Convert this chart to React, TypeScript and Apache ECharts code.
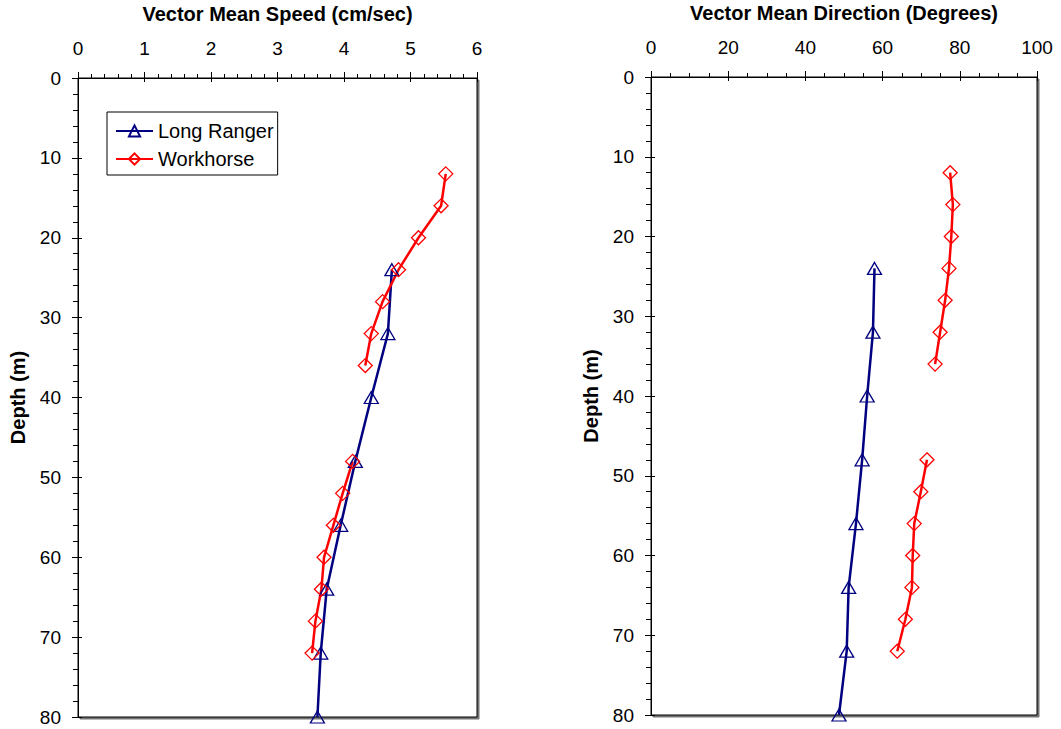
import React, { useEffect, useRef } from "react";
import * as echarts from "echarts";

const speedTicks = [0, 1, 2, 3, 4, 5, 6];
const dirTicks = [0, 20, 40, 60, 80, 100];
const depthTicks = [0, 10, 20, 30, 40, 50, 60, 70, 80];

const lrDepths = [24, 32, 40, 48, 56, 64, 72, 80];
const lrSpeed = [4.72, 4.66, 4.41, 4.17, 3.95, 3.74, 3.65, 3.6];
const lrDir = [57.9, 57.5, 56.0, 54.7, 53.1, 51.2, 50.7, 48.7];

const whDepths = [12, 16, 20, 24, 28, 32, 36, 40, 44, 48, 52, 56, 60, 64, 68, 72];
const whSpeed = [5.53, 5.46, 5.12, 4.82, 4.58, 4.41, 4.32, null, null, 4.13, 3.98, 3.84, 3.7, 3.66, 3.57, 3.52];
const whDir = [77.5, 78.2, 77.8, 77.2, 76.2, 74.9, 73.6, null, null, 71.5, 69.9, 68.2, 67.8, 67.6, 65.9, 63.8];

const FONT = "Liberation Sans, Arial, sans-serif";
const NAVY = "#000080";
const RED = "#ff0000";

const pairs = (xs: (number | null)[], ds: number[]) =>
  ds.map((d, i) => (xs[i] === null ? ["-", d] : [xs[i], d]));

export default function App() {
  const ref = useRef<HTMLDivElement>(null);
  useEffect(() => {
    if (!ref.current) return;
    const chart = echarts.init(ref.current, undefined, { renderer: "svg" });
    const axisLine = { show: true, onZero: false, lineStyle: { color: "#000", width: 1 } };
    const xAxisBase = (gi: number, ticks: number[], name: string, minorSplit: number) => ({
      type: "value",
      gridIndex: gi,
      position: "top",
      min: ticks[0],
      max: ticks[ticks.length - 1],
      interval: ticks[1] - ticks[0],
      name,
      nameLocation: "middle",
      nameGap: 54,
      nameTextStyle: { fontFamily: FONT, fontSize: 20, fontWeight: "bold", color: "#000" },
      axisLine,
      axisTick: { show: true, inside: false, length: 6, lineStyle: { color: "#000" } },
      minorTick: { show: true, splitNumber: minorSplit, length: 4, lineStyle: { color: "#000" } },
      axisLabel: { fontFamily: FONT, fontSize: 19, color: "#000", margin: 20 },
      splitLine: { show: false },
    });
    const xAxisInner = (gi: number, ticks: number[]) => ({
      type: "value",
      gridIndex: gi,
      position: "top",
      min: ticks[0],
      max: ticks[ticks.length - 1],
      interval: ticks[1] - ticks[0],
      axisLine: { show: false },
      axisTick: { show: true, inside: true, length: 4, lineStyle: { color: "#000" } },
      axisLabel: { show: false },
      splitLine: { show: false },
    });
    const yAxisBase = (gi: number) => ({
      type: "value",
      gridIndex: gi,
      inverse: true,
      min: depthTicks[0],
      max: depthTicks[depthTicks.length - 1],
      interval: depthTicks[1] - depthTicks[0],
      name: "Depth (m)",
      nameLocation: "middle",
      nameGap: 50,
      nameRotate: 90,
      nameTextStyle: { fontFamily: FONT, fontSize: 20, fontWeight: "bold", color: "#000" },
      axisLine,
      axisTick: { show: true, inside: false, length: 6, lineStyle: { color: "#000" } },
      minorTick: { show: true, splitNumber: 5, length: 5, lineStyle: { color: "#000" } },
      axisLabel: { fontFamily: FONT, fontSize: 19, color: "#000", margin: 17 },
      splitLine: { show: false },
    });
    const yAxisInner = (gi: number) => ({
      type: "value",
      gridIndex: gi,
      inverse: true,
      position: "left",
      min: depthTicks[0],
      max: depthTicks[depthTicks.length - 1],
      interval: depthTicks[1] - depthTicks[0],
      axisLine: { show: false },
      axisTick: { show: true, inside: true, length: 4, lineStyle: { color: "#000" } },
      axisLabel: { show: false },
      splitLine: { show: false },
    });
    const lrStyle = {
      name: "Long Ranger",
      type: "line",
      symbol: "triangle",
      symbolSize: [14, 12],
      clip: false,
      lineStyle: { color: NAVY, width: 2.5 },
      itemStyle: { color: "rgba(255,255,255,0)", borderColor: NAVY, borderWidth: 1.3 },
    };
    const whStyle = {
      name: "Workhorse",
      type: "line",
      symbol: "diamond",
      symbolSize: 14,
      clip: false,
      connectNulls: false,
      lineStyle: { color: RED, width: 2.5 },
      itemStyle: { color: "rgba(255,255,255,0)", borderColor: RED, borderWidth: 1.3 },
    };
    const gridStyle = {
      show: true,
      backgroundColor: "#fff",
      borderColor: "#000",
      borderWidth: 1,
      shadowColor: "rgba(0,0,0,0.55)",
      shadowOffsetX: 2,
      shadowOffsetY: 2,
      shadowBlur: 0,
      containLabel: false,
      outerBoundsMode: "none",
    };
    chart.setOption({
      animation: false,
      backgroundColor: "#fff",
      grid: [
        { ...gridStyle, left: 78, top: 78, width: 399, height: 639 },
        { ...gridStyle, left: 651, top: 77, width: 386, height: 638 },
      ],
      xAxis: [
        xAxisBase(0, speedTicks, "Vector Mean Speed (cm/sec)", 5),
        xAxisBase(1, dirTicks, "Vector Mean Direction (Degrees)", 4),
        xAxisInner(0, speedTicks),
        xAxisInner(1, dirTicks),
      ],
      yAxis: [yAxisBase(0), yAxisBase(1), yAxisInner(0), yAxisInner(1)],
      legend: {
        data: ["Long Ranger", "Workhorse"],
        orient: "vertical",
        left: 107,
        top: 112,
        itemWidth: 37,
        itemHeight: 14,
        itemGap: 8,
        padding: [9, 4, 6, 8],
        borderColor: "#000",
        borderWidth: 1,
        borderRadius: 0,
        backgroundColor: "#fff",
        textStyle: { fontFamily: FONT, fontSize: 20, lineHeight: 20, color: "#000" },
      },
      series: [
        { ...lrStyle, xAxisIndex: 0, yAxisIndex: 0, data: pairs(lrSpeed, lrDepths) },
        { ...whStyle, xAxisIndex: 0, yAxisIndex: 0, data: pairs(whSpeed, whDepths) },
        { ...lrStyle, xAxisIndex: 1, yAxisIndex: 1, data: pairs(lrDir, lrDepths) },
        { ...whStyle, xAxisIndex: 1, yAxisIndex: 1, data: pairs(whDir, whDepths) },
      ],
    });
    return () => chart.dispose();
  }, []);
  return (
    <div
      ref={ref}
      style={{ position: "fixed", left: 0, top: 0, width: 1061, height: 729, background: "#fff" }}
    />
  );
}
